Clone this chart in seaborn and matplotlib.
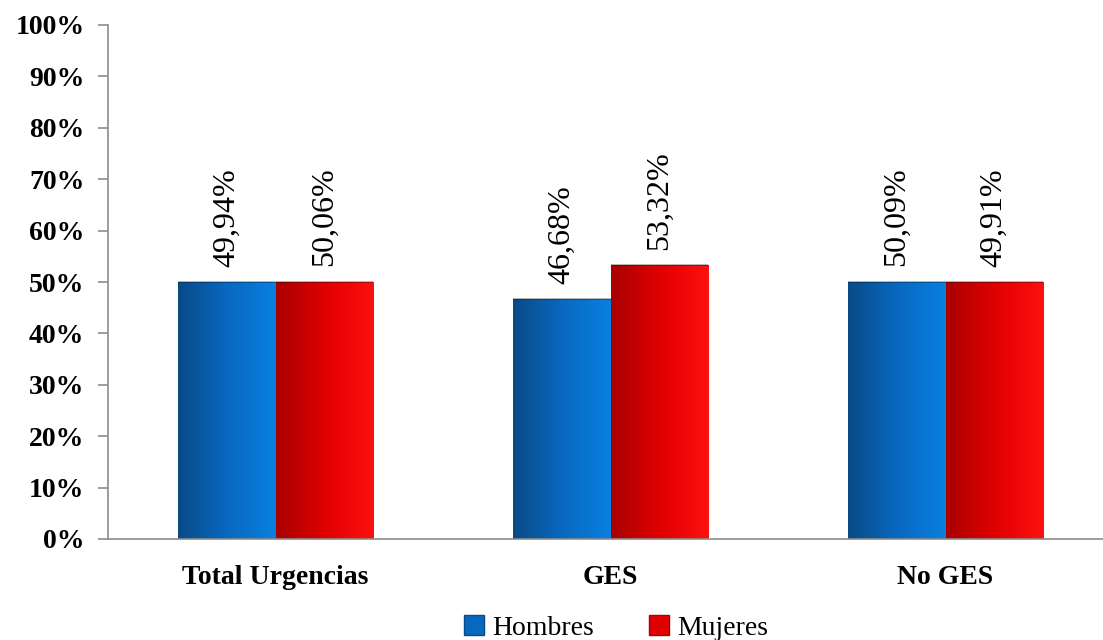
import numpy as np
import pandas as pd
import matplotlib
matplotlib.use("Agg")
import matplotlib.pyplot as plt
import seaborn as sns
from matplotlib.colors import LinearSegmentedColormap
from matplotlib.patches import Patch

categories = ["Total Urgencias", "GES", "No GES"]
hombres = [49.94, 46.68, 50.09]
mujeres = [50.06, 53.32, 49.91]
series = ["Hombres", "Mujeres"]
yticks = [0, 10, 20, 30, 40, 50, 60, 70, 80, 90, 100]

df = pd.DataFrame({
    "cat": categories * 2,
    "sexo": ["Hombres"] * 3 + ["Mujeres"] * 3,
    "val": hombres + mujeres,
})

sns.set_theme(style="white")
plt.rcParams["font.family"] = ["Liberation Serif", "DejaVu Serif"]
plt.rcParams["text.color"] = "black"
plt.rcParams["xtick.labelcolor"] = "black"
plt.rcParams["ytick.labelcolor"] = "black"

fig = plt.figure(figsize=(11.03, 6.40), dpi=100)
ax = fig.add_axes([108 / 1103, 101 / 640, 1005 / 1103, 514 / 640])

palette = {"Hombres": "#0868c0", "Mujeres": "#e00000"}
sns.barplot(data=df, x="cat", y="val", hue="sexo", order=categories,
            hue_order=series, palette=palette, width=0.58, ax=ax,
            legend=False, saturation=1, edgecolor="none")

cmaps = {
    "Hombres": LinearSegmentedColormap.from_list("b", ["#0a4a86", "#0868c0", "#0a80e0"]),
    "Mujeres": LinearSegmentedColormap.from_list("r", ["#a80000", "#e00000", "#ff1010"]),
}

ax.set_xlim(-0.5, 2.5)
ax.set_ylim(0, 100)

patches = list(ax.patches)
grad = np.linspace(0, 1, 256).reshape(1, -1)
for i, p in enumerate(patches):
    s = series[i // 3]
    x0, y0 = p.get_x(), p.get_y()
    w, h = p.get_width(), p.get_height()
    im = ax.imshow(grad, cmap=cmaps[s], aspect="auto",
                   extent=[x0, x0 + w, y0, y0 + h], zorder=p.get_zorder() + 0.1)
    im.set_clip_path(p)
    ax.plot([x0, x0 + w], [y0 + h, y0 + h], color="#00000055", lw=1.2,
            zorder=p.get_zorder() + 0.2, solid_capstyle="butt")
    ax.text(x0 + w / 2, y0 + h + 3.0, f"{h:.2f}".replace(".", ",") + "%",
            rotation=90, ha="center", va="bottom", fontsize=23, color="#000000",
            family=["Liberation Serif", "DejaVu Serif"])

ax.set_xlim(-0.5, 2.5)
ax.set_ylim(0, 100)

ax.set_yticks(yticks)
ax.set_yticklabels([f"{v}%" for v in yticks], fontsize=20, fontweight="bold")
ax.set_xticks(range(3))
ax.set_xticklabels(categories, fontsize=20, fontweight="bold")
ax.set_xticks([-0.5, 0.5, 1.5, 2.5], minor=True)
ax.tick_params(axis="x", which="major", length=0, pad=19)
ax.tick_params(axis="x", which="minor", length=7, width=1.2, color="#8c8c8c", direction="out")
ax.tick_params(axis="y", length=7, width=1.2, color="#8c8c8c", direction="out", pad=10, left=True)
ax.set_xlabel("")
ax.set_ylabel("")

for side in ["top", "right"]:
    ax.spines[side].set_visible(False)
for side in ["left", "bottom"]:
    ax.spines[side].set_color("#8c8c8c")
    ax.spines[side].set_linewidth(1.2)

handles = [Patch(facecolor="#0868c0", edgecolor="#0a4a86", label="Hombres"),
           Patch(facecolor="#e00000", edgecolor="#a80000", label="Mujeres")]
fig.legend(handles=handles, loc="center", bbox_to_anchor=(616 / 1103, 1 - 628 / 640),
           ncol=2, frameon=False, fontsize=20, handlelength=0.7, handleheight=0.7,
           handletextpad=0.3, columnspacing=2.0)

fig.savefig("out.png", dpi=100)
